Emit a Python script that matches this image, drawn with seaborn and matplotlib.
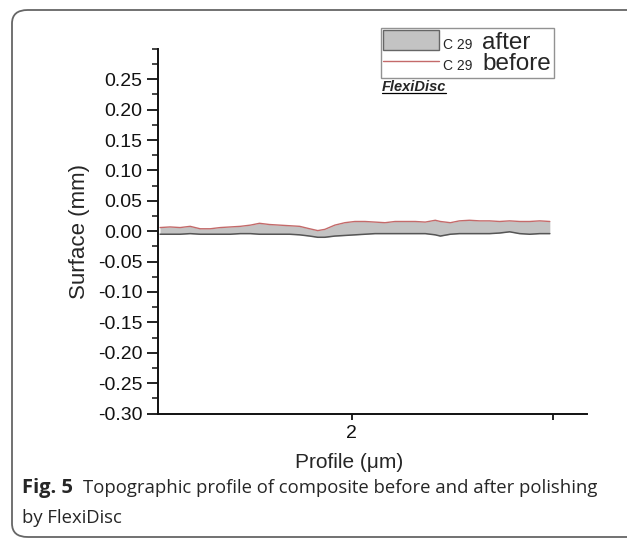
import numpy as np
import pandas as pd
import matplotlib
matplotlib.use("Agg")
import matplotlib.pyplot as plt
import seaborn as sns
from matplotlib.patches import FancyBboxPatch, Patch
from matplotlib.lines import Line2D
from matplotlib.ticker import MultipleLocator

# ---- data ----
profile = [0.09, 0.19, 0.29, 0.39, 0.49, 0.59, 0.69, 0.79, 0.89, 0.99,
           1.08, 1.18, 1.28, 1.38, 1.48, 1.58, 1.66, 1.73, 1.83, 1.93,
           2.03, 2.13, 2.23, 2.33, 2.43, 2.53, 2.63, 2.73, 2.83, 2.88,
           2.98, 3.07, 3.17, 3.27, 3.37, 3.47, 3.57, 3.67, 3.77, 3.87, 3.97]
before = [0.006, 0.007, 0.006, 0.008, 0.004, 0.004, 0.006, 0.007, 0.008, 0.010,
          0.013, 0.011, 0.010, 0.009, 0.008, 0.004, 0.001, 0.003, 0.010, 0.014,
          0.016, 0.016, 0.015, 0.014, 0.016, 0.016, 0.016, 0.015, 0.018, 0.016,
          0.014, 0.017, 0.018, 0.017, 0.017, 0.016, 0.017, 0.016, 0.016, 0.017, 0.016]
after = [-0.005, -0.005, -0.005, -0.004, -0.005, -0.005, -0.005, -0.005, -0.004, -0.004,
         -0.005, -0.005, -0.005, -0.005, -0.006, -0.008, -0.010, -0.010, -0.008, -0.007,
         -0.006, -0.005, -0.004, -0.004, -0.004, -0.004, -0.004, -0.004, -0.006, -0.008,
         -0.005, -0.004, -0.004, -0.004, -0.004, -0.003, -0.001, -0.004, -0.005, -0.004, -0.004]
y_ticks = [-0.30, -0.25, -0.20, -0.15, -0.10, -0.05, 0.00, 0.05, 0.10, 0.15, 0.20, 0.25]
x_ticks = [2, 4]
x_ticklabels = ["2", ""]
series_names = ["C 29", "C 29"]
series_words = ["after", "before"]

df = pd.DataFrame({"profile": profile, "before": before, "after": after})

sns.set_style("ticks")
plt.rcParams["font.family"] = ["Liberation Sans", "DejaVu Sans"]

W, H = 627, 540
fig = plt.figure(figsize=(W / 100, H / 100), dpi=100)
ax_left, ax_right, ax_bottom, ax_top = 158, 587, 413.5, 48.9
ax = fig.add_axes([ax_left / W, 1 - ax_bottom / H, (ax_right - ax_left) / W, (ax_bottom - ax_top) / H])

ax.fill_between(df["profile"], df["after"], df["before"], color="#c3c3c3", lw=0)
sns.lineplot(data=df, x="profile", y="after", ax=ax, color="#555555", lw=1.1)
sns.lineplot(data=df, x="profile", y="before", ax=ax, color="#c46a6a", lw=1.0)

ax.set_xlim(0.07, 4.34)
ax.set_ylim(-0.30, 0.30)
ax.set_yticks(y_ticks)
ax.set_yticklabels([f"{v:.2f}" for v in y_ticks])
ax.yaxis.set_minor_locator(MultipleLocator(0.025))
ax.set_xticks(x_ticks)
ax.set_xticklabels(x_ticklabels)
for s in ["top", "right"]:
    ax.spines[s].set_visible(False)
for s in ["left", "bottom"]:
    ax.spines[s].set_linewidth(1.4)
    ax.spines[s].set_color("#111111")
ax.tick_params(axis="y", which="major", direction="out", length=8, width=1.3,
               labelsize=14, colors="#111111", pad=3)
ax.tick_params(axis="y", which="minor", direction="out", length=4.5, width=1.1, colors="#111111")
ax.tick_params(axis="x", which="major", direction="out", length=4.5, width=1.3,
               labelsize=14, colors="#111111", pad=4)

ax.set_ylabel("Surface (mm)", fontsize=16)
ax.yaxis.label.set(va="center", ha="center", rotation_mode="default")
ax.yaxis.set_label_coords((80 - ax_left) / (ax_right - ax_left), 0.5)
ax.set_xlabel("Profile (\u03bcm)", fontsize=15)
ax.xaxis.label.set(va="center", ha="center")
ax.xaxis.set_label_coords((349.5 - ax_left) / (ax_right - ax_left),
                          (ax_bottom - 462) / (ax_bottom - ax_top))

# legend: big words are the legend labels, the small series name sits in the gap
handles = [Patch(facecolor="#c3c3c3", edgecolor="#666666", lw=1.0),
           Line2D([0], [0], color="#c46a6a", lw=1.0)]
leg_fs = 17.5
fpx = leg_fs * 100 / 72
leg = fig.legend(handles, series_words, loc="upper left", bbox_to_anchor=(381 / W, 1 - 28 / H),
                 frameon=True, fancybox=False, fontsize=leg_fs,
                 handlelength=56 / fpx, handleheight=0.85,
                 handletextpad=43 / fpx, borderpad=0.1, labelspacing=-0.05,
                 borderaxespad=0)
leg.get_frame().set_edgecolor("#777777")
leg.get_frame().set_linewidth(1.0)
fig.canvas.draw()
renderer = fig.canvas.get_renderer()
for t, name in zip(leg.get_texts(), series_names):
    bb = t.get_window_extent(renderer)
    _, _, d = renderer.get_text_width_height_descent("lp", t.get_fontproperties(), ismath=False)
    fig.text((bb.x0 - 39) / W, (bb.y0 + d) / H, name, fontsize=10,
             va="baseline", ha="left", zorder=10)

fl = fig.text(382 / W, 1 - 87 / H, "FlexiDisc", fontsize=10.5, fontweight="bold",
              fontstyle="italic", va="center", ha="left")
fig.canvas.draw()
bb = fl.get_window_extent().transformed(fig.transFigure.inverted())
fig.add_artist(Line2D([bb.x0, bb.x1], [bb.y0 + 0.001, bb.y0 + 0.001], color="black", lw=0.9,
                      transform=fig.transFigure))

# caption
cap_font = ["Open Sans", "DejaVu Sans"]
f5 = fig.text(22 / W, 1 - 488 / H, "Fig. 5", fontsize=14.5, fontweight="bold",
              family=cap_font, va="center", ha="left")
fig.canvas.draw()
bb5 = f5.get_window_extent()
fig.text((bb5.x1 + 10) / W, 1 - 488 / H,
         "Topographic profile of composite before and after polishing",
         fontsize=13.3, family=cap_font, va="center", ha="left")
fig.text(22 / W, 1 - 518 / H, "by FlexiDisc", fontsize=13.3, family=cap_font,
         va="center", ha="left")

# rounded frame
frame = FancyBboxPatch((12 / W, 3 / H), 700 / W, 527 / H,
                       boxstyle="round,pad=0,rounding_size=0.025", transform=fig.transFigure,
                       facecolor="none", edgecolor="#666666", lw=1.3)
fig.add_artist(frame)

fig.savefig("out.png", dpi=100)
